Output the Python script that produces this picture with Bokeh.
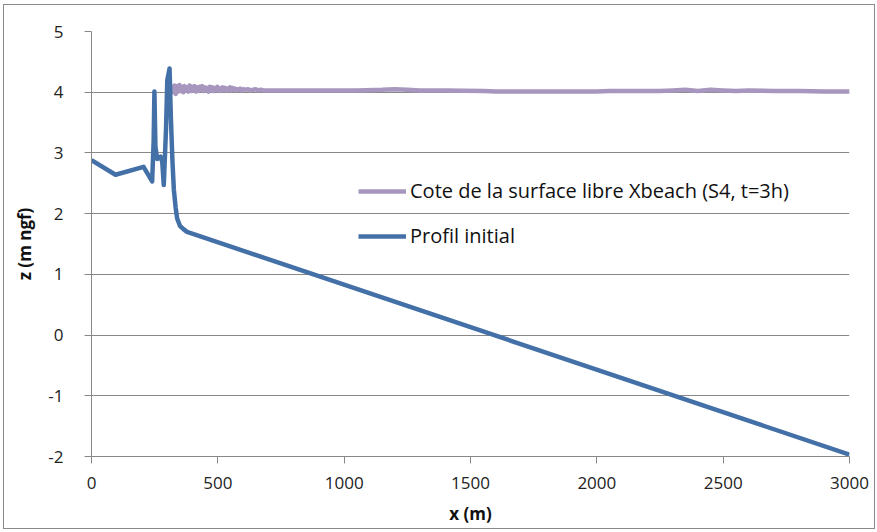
from bokeh.plotting import figure
from bokeh.models import Range1d, Legend, LegendItem, FixedTicker, PrintfTickFormatter
from bokeh.embed import file_html
from bokeh.resources import INLINE

# Initial beach profile (x in m, z in m NGF)
profil_x = [0, 95, 206, 240, 246, 249, 253, 260, 273, 280, 286, 295, 300, 309, 314,
            320, 326, 333, 339, 350, 365, 378, 3000]
profil_z = [2.88, 2.64, 2.77, 2.53, 3.20, 4.01, 3.10, 2.90, 2.94, 2.85, 2.47, 3.40, 4.20, 4.39, 3.60,
            2.90, 2.39, 2.10, 1.92, 1.80, 1.74, 1.70, -1.97]

# XBeach free-surface elevation (S4, t=3h)
surf_x = [318, 322, 328, 333, 338, 343, 348, 353, 358, 363, 368, 373, 378, 383, 388,
          393, 398, 403, 408, 413, 418, 423, 428, 433, 438, 443, 448, 453, 458, 463,
          468, 473, 478, 483, 488, 493, 498, 503, 508, 513, 518, 523, 528, 533, 538,
          543, 548, 553, 558, 563, 568, 573, 578, 583, 588, 593, 600, 610, 620, 630,
          640, 650, 660, 670, 680, 700, 750, 900, 1050, 1150, 1200, 1250, 1300, 1400,
          1550, 1600, 1800, 2000, 2050, 2250, 2300, 2350, 2400, 2450, 2500, 2550,
          2600, 2700, 2800, 2900, 3000]
surf_z = [4.12, 4.00, 4.11, 3.97, 4.10, 4.01, 4.12, 4.02, 4.09, 4.00, 4.10, 4.03, 4.08, 4.01, 4.11,
          4.02, 4.09, 4.03, 4.10, 4.01, 4.08, 4.02, 4.09, 4.04, 4.10, 4.02, 4.08, 4.03, 4.07, 4.01,
          4.09, 4.03, 4.08, 4.02, 4.07, 4.04, 4.09, 4.03, 4.06, 4.02, 4.08, 4.04, 4.07, 4.03, 4.06,
          4.04, 4.08, 4.03, 4.07, 4.04, 4.06, 4.03, 4.05, 4.04, 4.06, 4.03, 4.05, 4.04, 4.05, 4.03,
          4.04, 4.05, 4.03, 4.04, 4.03, 4.03, 4.03, 4.03, 4.03, 4.04, 4.05, 4.04, 4.03, 4.03,
          4.02, 4.01, 4.01, 4.01, 4.02, 4.02, 4.03, 4.04, 4.02, 4.04, 4.03, 4.02,
          4.03, 4.02, 4.02, 4.01, 4.01]

x_ticks = [0, 500, 1000, 1500, 2000, 2500, 3000]
y_ticks = [-2, -1, 0, 1, 2, 3, 4, 5]

BLUE = "#4470A8"
PURPLE = "#A797BF"
GRID = "#888888"
FONT = "Open Sans"

p = figure(width=877, height=532, output_backend="svg", toolbar_location=None,
           x_range=Range1d(0, 3000), y_range=Range1d(-2, 5),
           min_border_left=91, min_border_right=28, min_border_top=31, min_border_bottom=76)
p.outline_line_color = None
p.background_fill_color = "white"

surf = p.line(surf_x, surf_z, line_color=PURPLE, line_width=4.5, line_join="round")
prof = p.line(profil_x, profil_z, line_color=BLUE, line_width=4.5, line_join="round")

p.xgrid.visible = False
p.ygrid.grid_line_color = GRID
p.ygrid.grid_line_width = 1
p.ygrid.ticker = FixedTicker(ticks=y_ticks)

p.xaxis.ticker = FixedTicker(ticks=x_ticks)
p.yaxis.ticker = FixedTicker(ticks=y_ticks)
for ax in (p.xaxis[0], p.yaxis[0]):
    ax.formatter = PrintfTickFormatter(format="%d")
    ax.axis_line_color = GRID
    ax.major_tick_line_color = GRID
    ax.major_tick_out = 7
    ax.major_tick_in = 0
    ax.minor_tick_line_color = None
    ax.major_label_text_font = FONT
    ax.major_label_text_font_size = "17px"
    ax.major_label_text_color = "#222222"
    ax.axis_label_text_font = FONT
    ax.axis_label_text_font_size = "17px"
    ax.axis_label_text_font_style = "bold"
    ax.axis_label_text_color = "#111111"

p.xaxis.axis_label = "x (m)"
p.yaxis.axis_label = "z (m ngf)"
p.xaxis.major_label_standoff = 13
p.yaxis.major_label_standoff = 21
p.xaxis.axis_label_standoff = 10
p.yaxis.axis_label_standoff = 9

legend = Legend(items=[
    LegendItem(label="Cote de la surface libre Xbeach (S4, t=3h)", renderers=[surf]),
    LegendItem(label="Profil initial", renderers=[prof]),
], location=(267, 207))
legend.border_line_color = None
legend.background_fill_alpha = 0
legend.padding = 0
legend.margin = 0
legend.spacing = 18
legend.glyph_width = 48
legend.glyph_height = 22
legend.label_height = 22
legend.label_standoff = 4
legend.label_text_font = FONT
legend.label_text_font_size = "20px"
legend.label_text_color = "#111111"
p.add_layout(legend, "center")

html = file_html(p, INLINE)
# thin grey frame around the whole chart
frame_div = ('<div style="position:fixed;left:3px;top:4px;width:870px;height:523px;'
             'border:1px solid #8a8a8a;pointer-events:none;z-index:10"></div>')
html = html.replace("</body>", frame_div + "</body>")
open("out.html", "w").write(html)
